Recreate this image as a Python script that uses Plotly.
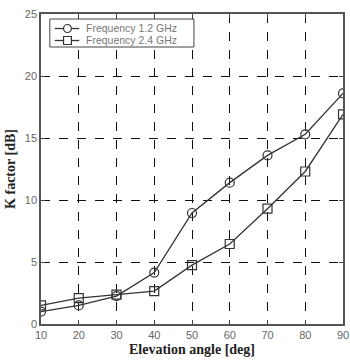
import plotly.graph_objects as go

# Elevation angles and measured K factor values
elevation_deg = [10, 20, 30, 40, 50, 60, 70, 80, 90]
k_factor_12ghz = [1.0, 1.5, 2.25, 4.15, 8.95, 11.4, 13.6, 15.3, 18.6]
k_factor_24ghz = [1.5, 2.08, 2.37, 2.65, 4.75, 6.45, 9.3, 12.3, 16.9]
series_names = ["Frequency 1.2 GHz", "Frequency 2.4 GHz"]
x_ticks = [10, 20, 30, 40, 50, 60, 70, 80, 90]
y_ticks = [0, 5, 10, 15, 20, 25]

line_col = "#333333"
tick_font = dict(family="Liberation Sans, Arial", size=11, color="#666666")
title_font = dict(family="Liberation Serif, Times New Roman", size=14, color="#222222")

fig = go.Figure()
fig.add_trace(go.Scatter(
    x=elevation_deg, y=k_factor_12ghz, mode="lines+markers",
    name=series_names[0],
    line=dict(color=line_col, width=1.3),
    marker=dict(symbol="circle-open", size=9, color=line_col, line=dict(width=1.2)),
))
fig.add_trace(go.Scatter(
    x=elevation_deg, y=k_factor_24ghz, mode="lines+markers",
    name=series_names[1],
    line=dict(color=line_col, width=1.3),
    marker=dict(symbol="square-open", size=9, color=line_col, line=dict(width=1.2)),
))

# Compact boxed legend in the upper-left corner (paper coordinates)
W, H = 350, 361
L, R, T, B = 41, 1, 14, 37
pw, ph = W - L - R, H - T - B


def px(x):
    return (x - L) / pw


def py(y):
    return 1 - (y - T) / ph


shapes = [
    dict(type="rect", xref="paper", yref="paper",
         x0=px(50), x1=px(197), y0=py(47), y1=py(19),
         line=dict(color="#444444", width=1), fillcolor="white", layer="above"),
]
annotations = []
rows_y = [28.5, 40.5]
for i, (name, yy) in enumerate(zip(series_names, rows_y)):
    shapes.append(dict(type="line", xref="paper", yref="paper",
                       x0=px(55), x1=px(80), y0=py(yy), y1=py(yy),
                       line=dict(color=line_col, width=1.3), layer="above"))
    kind = "circle" if i == 0 else "rect"
    shapes.append(dict(type=kind, xref="paper", yref="paper",
                       x0=px(64), x1=px(72), y0=py(yy + 4), y1=py(yy - 4),
                       line=dict(color=line_col, width=1.2), fillcolor="white",
                       layer="above"))
    annotations.append(dict(xref="paper", yref="paper", x=px(85), y=py(yy),
                            xanchor="left", yanchor="middle", showarrow=False,
                            text=name,
                            font=dict(family="Liberation Sans, Arial", size=10.5,
                                      color="#777777")))

fig.update_layout(
    width=W, height=H,
    margin=dict(l=L, r=R, t=T, b=B),
    paper_bgcolor="white", plot_bgcolor="white",
    showlegend=False,
    shapes=shapes,
    annotations=annotations,
    xaxis=dict(
        range=[10, 90], tickvals=x_ticks, ticktext=[str(v) for v in x_ticks],
        showgrid=True, gridcolor="#111111", gridwidth=1, griddash="dash",
        ticks="inside", ticklen=4, tickcolor="#444444", mirror="ticks",
        showline=True, linecolor="#555555", linewidth=1.5,
        tickfont=tick_font, zeroline=False, ticklabeloverflow="allow",
        title=dict(text="<b>Elevation angle [deg]</b>", font=title_font, standoff=4),
    ),
    yaxis=dict(
        range=[0, 25], tickvals=y_ticks, ticktext=[str(v) for v in y_ticks],
        showgrid=True, gridcolor="#111111", gridwidth=1, griddash="dash",
        ticks="inside", ticklen=4, tickcolor="#444444", mirror="ticks",
        showline=True, linecolor="#555555", linewidth=1.5,
        tickfont=tick_font, zeroline=False, ticklabeloverflow="allow",
        title=dict(text="<b>K factor [dB]</b>", font=title_font, standoff=6),
    ),
)

fig.write_html("out.html")
